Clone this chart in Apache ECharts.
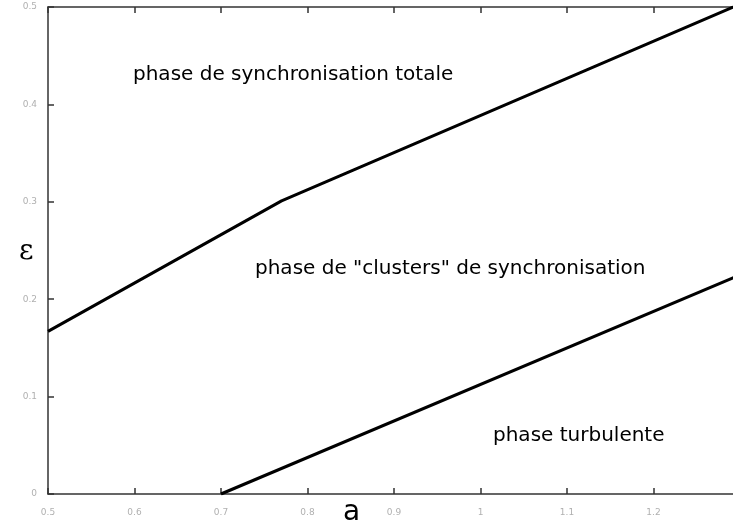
<!DOCTYPE html>
<html>
<head>
<meta charset="utf-8">
<script src="https://cdn.jsdelivr.net/npm/echarts@6/dist/echarts.min.js"></script>
<style>
html,body{margin:0;padding:0;background:#fff;}
#chart{width:733px;height:525px;}
</style>
</head>
<body>
<div id="chart"></div>
<script>
// frontieres de phase
var aUpper = [0.5, 0.77, 1.3];
var epsUpper = [0.167, 0.301, 0.503];
var aLower = [0.7, 1.3];
var epsLower = [0, 0.225];

var aMin = 0.5, aMax = 1.3, aStep = 0.1;
var epsMin = 0, epsMax = 0.5, epsStep = 0.1;

var phaseLabels = ['phase de synchronisation totale', 'phase de "clusters" de synchronisation', 'phase turbulente'];

function pairs(xs, ys){
	var out = [];
	for (var i = 0; i < xs.length; i++) out.push([xs[i], ys[i]]);
	return out;
}

var chart = echarts.init(document.getElementById('chart'));

var axisLine = {lineStyle: {color: '#333', width: 1.5}};
var axisTick = {inside: true, length: 6, lineStyle: {color: '#333', width: 1.5}};
var tickText = {fontSize: 9, color: '#b0b0b0', fontFamily: 'DejaVu Sans'};
var phaseFont = '20px "DejaVu Sans"';

chart.setOption({
	animation: false,
	grid: {left: 48, top: 7, right: -7, bottom: 31, outerBoundsMode: 'none'},
	xAxis: [
		{
			type: 'value', min: aMin, max: aMax, interval: aStep,
			axisLine: axisLine, axisTick: axisTick, splitLine: {show: false},
			axisLabel: Object.assign({margin: 14}, tickText)
		},
		{
			type: 'value', position: 'top', min: aMin, max: aMax, interval: aStep,
			axisLine: axisLine, axisTick: axisTick, splitLine: {show: false},
			axisLabel: {show: false}
		}
	],
	yAxis: {
		type: 'value', min: epsMin, max: epsMax, interval: epsStep,
		axisLine: axisLine, axisTick: axisTick, splitLine: {show: false},
		axisLabel: Object.assign({margin: 11}, tickText)
	},
	series: [
		{
			type: 'line', data: pairs(aUpper, epsUpper), symbol: 'none',
			lineStyle: {color: '#000', width: 3}
		},
		{
			type: 'line', data: pairs(aLower, epsLower), symbol: 'none',
			lineStyle: {color: '#000', width: 3}
		}
	],
	graphic: [
		{type: 'text', left: 133, top: 65, style: {text: phaseLabels[0], font: phaseFont, fill: '#000'}},
		{type: 'text', left: 255, top: 259, style: {text: phaseLabels[1], font: phaseFont, fill: '#000'}},
		{type: 'text', left: 493, top: 426, style: {text: phaseLabels[2], font: phaseFont, fill: '#000'}},
		{type: 'text', left: 19, top: 238, style: {text: 'ε', font: '28px "DejaVu Serif"', fill: '#000'}},
		{type: 'text', left: 343, top: 499, style: {text: 'a', font: '28px "DejaVu Sans"', fill: '#000'}}
	]
});
</script>
</body>
</html>
